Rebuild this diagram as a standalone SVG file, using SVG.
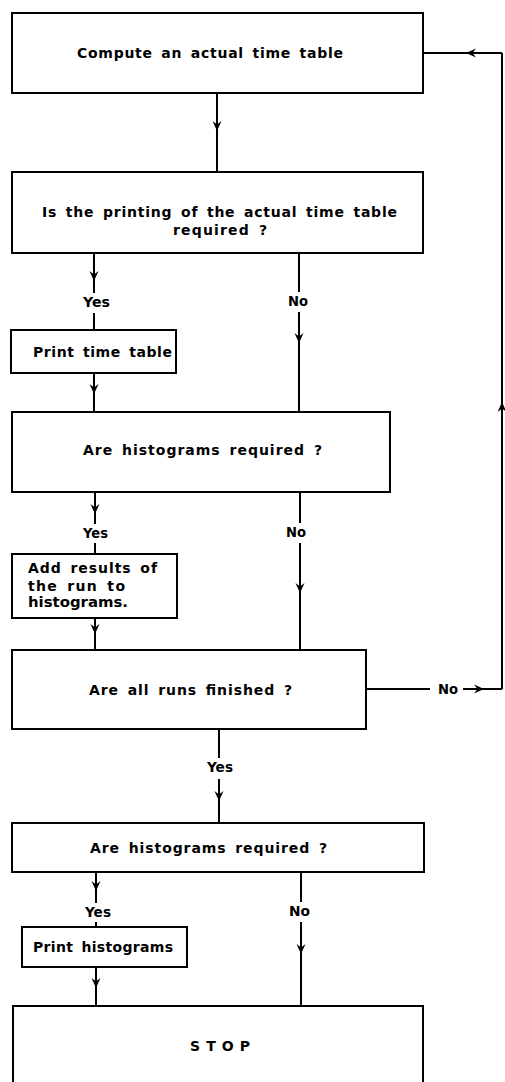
<svg xmlns="http://www.w3.org/2000/svg" width="505" height="1082" viewBox="0 0 505 1082">
  <defs>
    <marker id="arr" viewBox="-11 -5 12 10" refX="0" refY="0" markerWidth="12" markerHeight="10" markerUnits="userSpaceOnUse" orient="auto">
      <path d="M-10,-4.5 L0,0 L-10,4.5 L-6.5,0 Z" fill="#000"/>
    </marker>
    <style>
      .box { fill: #fff; stroke: #000; stroke-width: 2; }
      .ln { fill: none; stroke: #000; stroke-width: 2; }
      .ar { fill: none; stroke: #000; stroke-width: 2; marker-mid: url(#arr); }
      text { font-family: "DejaVu Sans", "Liberation Sans", sans-serif; font-weight: bold; font-size: 14px; word-spacing: 3px; fill: #000; }
    </style>
  </defs>
  <rect width="505" height="1082" fill="#fff"/>

  <!-- connectors -->
  <g id="connectors">
    <polyline class="ar" points="217,93 217,131 217,172"/>
    <polyline class="ar" points="94,253 94,281 94,293"/>
    <line class="ln" x1="94" y1="313" x2="94" y2="330"/>
    <line class="ln" x1="299" y1="253" x2="299" y2="292"/>
    <polyline class="ar" points="299,312 299,343 299,412"/>
    <polyline class="ar" points="94,373 94,394 94,412"/>
    <polyline class="ar" points="95,492 95,514 95,524"/>
    <line class="ln" x1="95" y1="543" x2="95" y2="554"/>
    <line class="ln" x1="300" y1="492" x2="300" y2="523"/>
    <polyline class="ar" points="300,543 300,593 300,650"/>
    <polyline class="ar" points="95,618 95,634 95,650"/>
    <line class="ln" x1="366" y1="689" x2="430" y2="689"/>
    <polyline class="ar" points="463,689 484,689 502,689"/>
    <polyline class="ar" points="502,689 502,402 502,53"/>
    <polyline class="ar" points="502,53 466,53 423,53"/>
    <line class="ln" x1="219" y1="729" x2="219" y2="758"/>
    <polyline class="ar" points="219,779 219,801 219,823"/>
    <polyline class="ar" points="96,872 96,891 96,903"/>
    <line class="ln" x1="96" y1="922" x2="96" y2="927"/>
    <line class="ln" x1="301" y1="872" x2="301" y2="902"/>
    <polyline class="ar" points="301,922 301,954 301,1006"/>
    <polyline class="ar" points="96,967 96,988 96,1006"/>
  </g>

  <!-- branch labels -->
  <g id="labels">
    <text x="83" y="307" textLength="27" lengthAdjust="spacingAndGlyphs">Yes</text>
    <text x="288" y="306" textLength="20" lengthAdjust="spacingAndGlyphs">No</text>
    <text x="83" y="538" textLength="25" lengthAdjust="spacingAndGlyphs">Yes</text>
    <text x="286" y="537" textLength="20" lengthAdjust="spacingAndGlyphs">No</text>
    <text x="438" y="694" textLength="20" lengthAdjust="spacingAndGlyphs">No</text>
    <text x="207" y="772" textLength="26" lengthAdjust="spacingAndGlyphs">Yes</text>
    <text x="85" y="917" textLength="26" lengthAdjust="spacingAndGlyphs">Yes</text>
    <text x="289" y="916" textLength="21" lengthAdjust="spacingAndGlyphs">No</text>
  </g>

  <g id="compute">
    <rect class="box" x="12" y="13" width="411" height="80"/>
    <text x="77" y="58" textLength="266" lengthAdjust="spacing">Compute an actual time table</text>
  </g>

  <g id="print-required">
    <rect class="box" x="12" y="172" width="411" height="81"/>
    <text x="42" y="217" textLength="355" lengthAdjust="spacing">Is the printing of the actual time table</text>
    <text x="173" y="235" textLength="94" lengthAdjust="spacing">required ?</text>
  </g>

  <g id="print-table">
    <rect class="box" x="11" y="330" width="165" height="43"/>
    <text x="33" y="357" textLength="139" lengthAdjust="spacing">Print time table</text>
  </g>

  <g id="histograms-required-1">
    <rect class="box" x="12" y="412" width="378" height="80"/>
    <text x="83" y="455" textLength="239" lengthAdjust="spacing">Are histograms required ?</text>
  </g>

  <g id="add-results">
    <rect class="box" x="12" y="554" width="165" height="64"/>
    <text x="28" y="573" textLength="129" lengthAdjust="spacing">Add results of</text>
    <text x="28" y="591" textLength="97" lengthAdjust="spacing">the run to</text>
    <text x="28" y="607" textLength="100" lengthAdjust="spacingAndGlyphs">histograms.</text>
  </g>

  <g id="runs-finished">
    <rect class="box" x="12" y="650" width="354" height="79"/>
    <text x="89" y="695" textLength="203" lengthAdjust="spacing">Are all runs finished ?</text>
  </g>

  <g id="histograms-required-2">
    <rect class="box" x="12" y="823" width="412" height="49"/>
    <text x="90" y="853" textLength="237" lengthAdjust="spacing">Are histograms required ?</text>
  </g>

  <g id="print-histograms">
    <rect class="box" x="22" y="927" width="165" height="40"/>
    <text x="33" y="952" textLength="140" lengthAdjust="spacing">Print histograms</text>
  </g>

  <g id="stop">
    <rect class="box" x="13" y="1006" width="410" height="100"/>
    <text x="190" y="1051" textLength="60" lengthAdjust="spacing" style="word-spacing:0">S T O P</text>
  </g>
</svg>
